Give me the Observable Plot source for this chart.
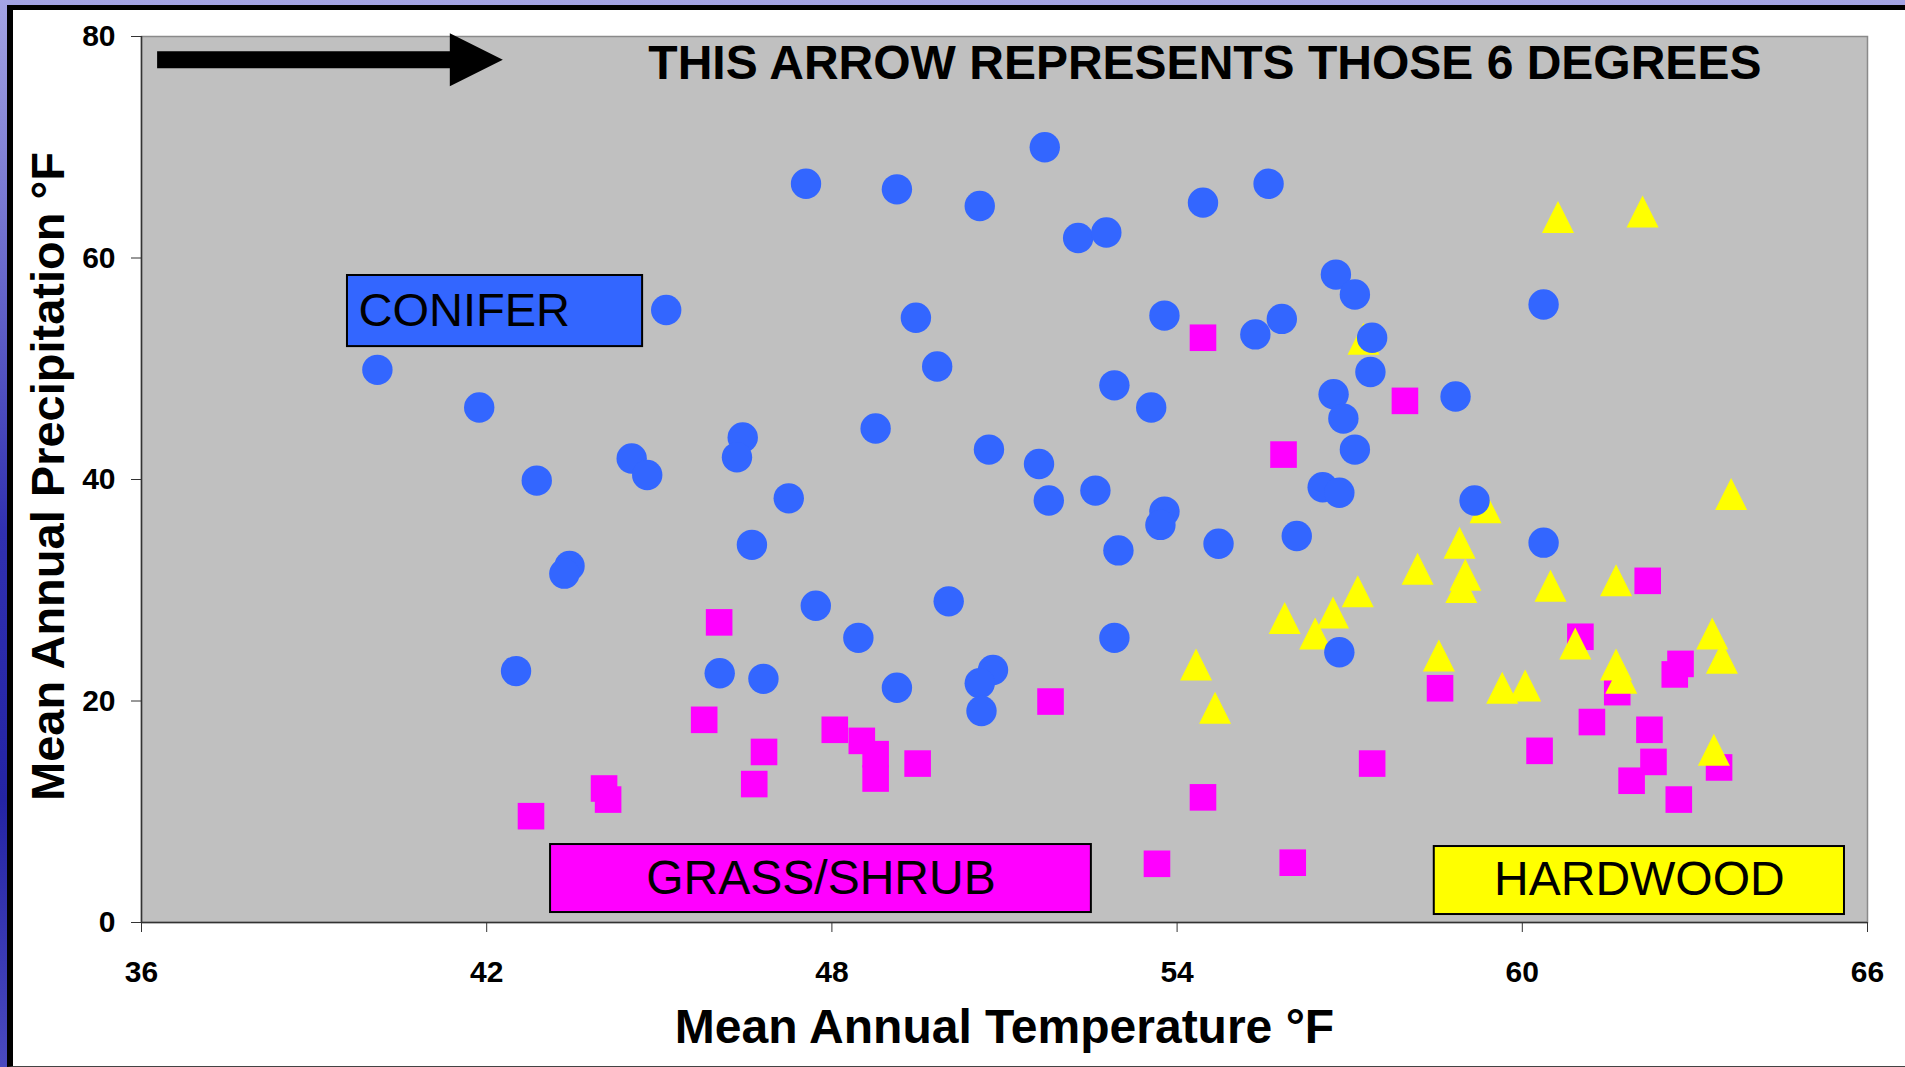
<!DOCTYPE html>
<html>
<head>
<meta charset="utf-8">
<script src="https://cdn.jsdelivr.net/npm/d3@7"></script>
<script src="https://cdn.jsdelivr.net/npm/@observablehq/plot@0.6"></script>
<style>
html, body { margin: 0; padding: 0; width: 1905px; height: 1067px; overflow: hidden; }
body {
  position: relative;
  background: linear-gradient(to bottom, #a4a4e4 0%, #6a6acc 25%, #3030b0 50%, #2424a4 75%, #4a4ac0 100%);
  font-family: "Liberation Sans", Arial, sans-serif;
}
#page {
  position: absolute; left: 7px; top: 5px; width: 1898px; height: 1062px;
  box-sizing: border-box; background: #ffffff;
  border-left: 6px solid #000; border-top: 5px solid #000; border-bottom: 1px solid #444;
}
#chart { position: absolute; left: 0; top: 0; }
</style>
</head>
<body>
<div id="page"></div>
<div id="chart"></div>
<script>
// ---- data ----
const xTicks = [36, 42, 48, 54, 60, 66];
const yTicks = [0, 20, 40, 60, 80];

const coniferTemp = [40.10,41.87,42.87,43.44,43.35,42.51,44.52,44.79,45.12,46.45,46.35,46.61,46.05,46.81,47.25,47.55,47.72,48.46,48.76,49.13,49.13,49.46,49.83,50.03,50.57,50.73,50.80,50.57,50.60,51.60,51.77,51.70,52.28,52.77,52.58,52.91,52.98,52.91,53.55,53.78,53.78,53.71,54.45,54.72,55.36,55.59,55.82,56.08,56.53,56.82,56.72,56.89,57.09,56.76,57.09,57.39,57.36,56.82,58.84,59.17,60.37,60.37];
const coniferPrecip = [49.9,46.5,39.9,32.2,31.5,22.7,41.9,40.4,55.3,43.8,42.0,34.1,22.5,22.0,38.3,66.7,28.6,25.7,44.6,66.2,21.2,54.6,50.2,29.0,64.7,42.7,22.8,21.6,19.1,41.4,38.1,70.0,61.8,62.3,39.0,48.5,33.6,25.7,46.5,54.8,37.1,35.9,65.0,34.2,53.1,66.7,54.5,34.9,39.3,38.8,47.7,45.5,42.7,58.5,56.7,52.8,49.7,24.4,47.5,38.1,55.8,34.3];

const grassTemp = [42.77,44.04,44.11,45.78,46.04,46.82,46.65,48.05,48.52,48.76,48.76,49.49,51.80,53.65,54.45,54.45,55.85,56.01,57.39,57.96,58.57,60.30,61.01,61.21,61.65,61.90,62.18,62.21,62.28,62.65,62.75,62.72,63.42];
const grassPrecip = [9.6,12.1,11.1,18.3,27.1,15.4,12.5,17.4,16.4,15.2,13.0,14.35,19.95,5.3,11.3,52.8,42.25,5.4,14.35,47.1,21.15,15.5,25.8,18.1,20.8,12.8,30.85,17.4,14.5,22.4,23.35,11.1,14.0];

const hardTemp = [57.24,60.62,62.09,63.63,59.36,58.91,54.33,54.66,55.87,58.18,57.14,56.71,56.40,59.01,58.94,60.49,61.63,58.55,60.92,61.63,61.72,63.30,63.47,59.65,60.05,63.33];
const hardPrecip = [52.7,63.7,64.2,38.7,37.5,34.3,23.3,19.4,27.5,31.95,29.9,28.0,26.1,31.4,30.3,30.4,30.9,24.1,25.2,23.3,22.1,26.1,23.9,21.2,21.4,15.6];

const arrowNote = "THIS ARROW REPRESENTS THOSE 6 DEGREES";
const arrowSpan = 6; // degrees
const xTitle = "Mean Annual Temperature °F";
const yTitle = "Mean Annual Precipitation °F";

// ---- build tables ----
const toRows = (xs, ys) => xs.map((t, i) => ({temp: t, precip: ys[i]}));
const conifer = toRows(coniferTemp, coniferPrecip);
const grass = toRows(grassTemp, grassPrecip);
const hard = toRows(hardTemp, hardPrecip);

// ---- custom symbols ----
const squareSym = {draw(ctx, size) { const r = Math.sqrt(size / Math.PI);
  ctx.moveTo(-r, -r); ctx.lineTo(r, -r); ctx.lineTo(r, r); ctx.lineTo(-r, r); ctx.closePath(); }};
const triSym = {draw(ctx, size) { const r = Math.sqrt(size / Math.PI);
  ctx.moveTo(0, -r); ctx.lineTo(r, r); ctx.lineTo(-r, r); ctx.closePath(); }};
// arrowhead with its tip at the anchor point, length 2r, height 2r
const headSym = {draw(ctx, size) { const r = Math.sqrt(size / Math.PI);
  ctx.moveTo(0, 0); ctx.lineTo(-2 * r, -r); ctx.lineTo(-2 * r, r); ctx.closePath(); }};

const arrowStart = 36.28;
const arrowY = 77.9;

const baseFont = "Liberation Sans, Arial, sans-serif";

const chart = Plot.plot({
  width: 1905,
  height: 1067,
  marginLeft: 141,
  marginRight: 38,
  marginTop: 36,
  marginBottom: 145,
  style: {background: "transparent", fontFamily: baseFont, color: "#000", overflow: "visible"},
  x: {domain: [36, 66], nice: false},
  y: {domain: [0, 80], nice: false},
  marks: [
    Plot.frame({fill: "#C0C0C0", stroke: "#8a8a8a", strokeWidth: 1.5}),
    Plot.ruleY([0], {stroke: "#333", strokeWidth: 1.5}),
    Plot.ruleX([36], {stroke: "#333", strokeWidth: 1.5}),
    Plot.axisX({ticks: xTicks, tickSize: 10, tickPadding: 28, fontSize: 30, fontWeight: "bold", label: null, stroke: "#333", tickFormat: d => String(d)}),
    Plot.axisY({ticks: yTicks, tickSize: 10, tickPadding: 16, fontSize: 30, fontWeight: "bold", label: null, stroke: "#333", tickFormat: d => String(d)}),
    // series
    Plot.dot(grass, {x: "temp", y: "precip", symbol: squareSym, r: 13.3, fill: "#FF00FF", stroke: "none"}),
    Plot.dot(hard, {x: "temp", y: "precip", symbol: triSym, r: 16, fill: "#FFFF00", stroke: "none"}),
    Plot.dot(conifer, {x: "temp", y: "precip", r: 15.2, fill: "#3366FF", stroke: "none"}),
    // arrow annotation (6 degrees)
    Plot.ruleY([arrowY], {x1: arrowStart, x2: arrowStart + arrowSpan - 0.5, stroke: "#000", strokeWidth: 17}),
    Plot.dot([arrowY], {x: arrowStart + arrowSpan, y: d => d, symbol: headSym, r: 26.5, fill: "#000", stroke: "none"}),
    Plot.text([arrowNote], {x: 44.81, y: 76.2, text: d => d, textAnchor: "start", lineAnchor: "bottom", fontSize: 48, fontWeight: "bold", fill: "#000"}),
    // category boxes
    Plot.rect([0], {x1: 39.58, x2: 44.71, y1: 52.0, y2: 58.42, fill: "#3366FF", stroke: "#000", strokeWidth: 2}),
    Plot.text(["CONIFER"], {x: 39.58, y: 53.9, dx: 11, text: d => d, textAnchor: "start", lineAnchor: "bottom", fontSize: 47, fill: "#000"}),
    Plot.rect([0], {x1: 43.11, x2: 52.51, y1: 0.90, y2: 7.04, fill: "#FF00FF", stroke: "#000", strokeWidth: 2}),
    Plot.text(["GRASS/SHRUB"], {x: (43.11 + 52.51) / 2, y: 2.53, text: d => d, textAnchor: "middle", lineAnchor: "bottom", fontSize: 48, fill: "#000"}),
    Plot.rect([0], {x1: 58.47, x2: 65.60, y1: 0.72, y2: 6.86, fill: "#FFFF00", stroke: "#000", strokeWidth: 2}),
    Plot.text(["HARDWOOD"], {x: (58.47 + 65.60) / 2, y: 2.44, text: d => d, textAnchor: "middle", lineAnchor: "bottom", fontSize: 48, fill: "#000"}),
    // axis titles
    Plot.text([xTitle], {frameAnchor: "bottom", dy: 120, text: d => d, textAnchor: "middle", lineAnchor: "bottom", fontSize: 48, fontWeight: "bold", fill: "#000"}),
    Plot.text([yTitle], {frameAnchor: "left", dx: -78, dy: -3, rotate: -90, text: d => d, textAnchor: "middle", lineAnchor: "bottom", fontSize: 47, fontWeight: "bold", fill: "#000"})
  ]
});
document.getElementById("chart").appendChild(chart);
</script>
</body>
</html>
